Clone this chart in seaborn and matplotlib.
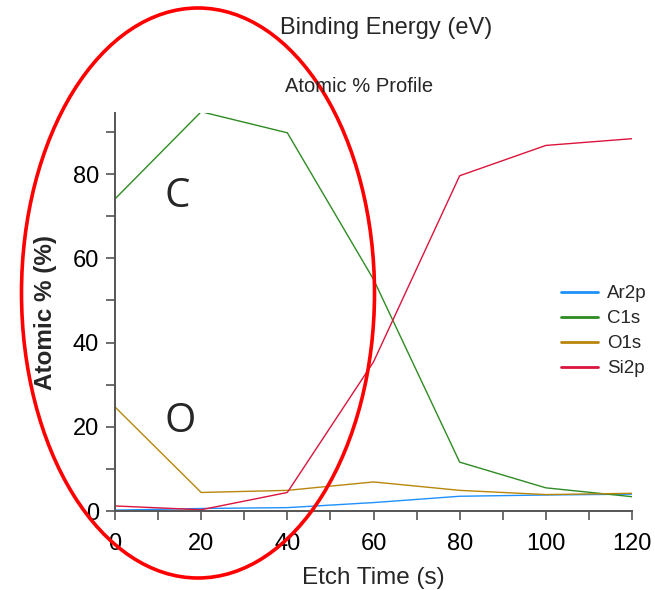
import numpy as np
import pandas as pd
import seaborn as sns
import matplotlib
matplotlib.use("Agg")
import matplotlib.pyplot as plt
from matplotlib.patches import Ellipse
from matplotlib.lines import Line2D
from matplotlib.ticker import MultipleLocator

etch_time = [0, 20, 40, 60, 80, 100, 120]
ar2p = [0.2, 0.6, 0.8, 2.0, 3.5, 3.8, 4.0]
c1s = [74.1, 94.8, 89.8, 55.0, 11.6, 5.5, 3.4]
o1s = [24.7, 4.4, 4.9, 6.9, 4.9, 3.9, 4.2]
si2p = [1.2, 0.3, 4.4, 35.4, 79.6, 86.8, 88.4]
series_names = ["Ar2p", "C1s", "O1s", "Si2p"]
colors = ["#1E90FF", "#2E8B22", "#B8860B", "#DC143C"]

df = pd.DataFrame({
    "Etch Time (s)": etch_time * 4,
    "Atomic %": ar2p + c1s + o1s + si2p,
    "Element": sum([[n] * len(etch_time) for n in series_names], []),
})

sns.set_style("white")
plt.rcParams['font.family'] = ['Liberation Sans', 'DejaVu Sans']

fig = plt.figure(figsize=(6.55, 5.9), dpi=100)
ax = fig.add_axes([115/655, 1 - 511/590, (632-115)/655, (511-113)/590])

sns.lineplot(data=df, x="Etch Time (s)", y="Atomic %", hue="Element",
             palette=dict(zip(series_names, colors)), linewidth=1.0, ax=ax,
             legend=False)

ax.set_xlim(0, 120)
ax.set_ylim(0, 94.5)
ax.xaxis.set_major_locator(MultipleLocator(20))
ax.xaxis.set_minor_locator(MultipleLocator(10))
ax.yaxis.set_major_locator(MultipleLocator(20))
ax.yaxis.set_minor_locator(MultipleLocator(10))
ax.tick_params(axis='both', which='both', direction='out', length=6.5, width=1.2,
               color='#555555', labelsize=17, labelcolor='black',
               bottom=True, left=True)
ax.tick_params(axis='x', which='major', pad=9)
ax.tick_params(axis='y', which='major', pad=5)
for s in ['top', 'right']:
    ax.spines[s].set_visible(False)
for s in ['left', 'bottom']:
    ax.spines[s].set_color('#555555')
    ax.spines[s].set_linewidth(1.4)

ax.set_xlabel("Etch Time (s)", fontsize=17.5, labelpad=9)
ax.set_ylabel("Atomic % (%)", fontsize=17.5, fontweight='bold', labelpad=11)

handles = [Line2D([0], [0], color=c, lw=2) for c in colors]
fig.legend(handles, series_names, loc='center left',
           bbox_to_anchor=(544/655, 1 - 331/590), frameon=False,
           fontsize=13.5, handlelength=2.0, handletextpad=0.45, labelspacing=0.42,
           borderpad=0.4)

fig.text(386/655, 1 - 28/590, "Binding Energy (eV)", ha='center', va='center', fontsize=17)
fig.text(359/655, 1 - 86/590, "Atomic % Profile", ha='center', va='center', fontsize=14.5)

fig.text(177/655, 1 - 197/590, "C", ha='center', va='center', fontsize=29,
         family=['Open Sans', 'DejaVu Sans'])
fig.text(180/655, 1 - 422/590, "O", ha='center', va='center', fontsize=29,
         family=['Open Sans', 'DejaVu Sans'])

ell = Ellipse((198/655, 1 - 293/590), 353/655, 570/590, transform=fig.transFigure,
              fill=False, edgecolor='#FF0000', linewidth=2.6, clip_on=False)
fig.patches.append(ell)

fig.savefig("out.png", dpi=100)
